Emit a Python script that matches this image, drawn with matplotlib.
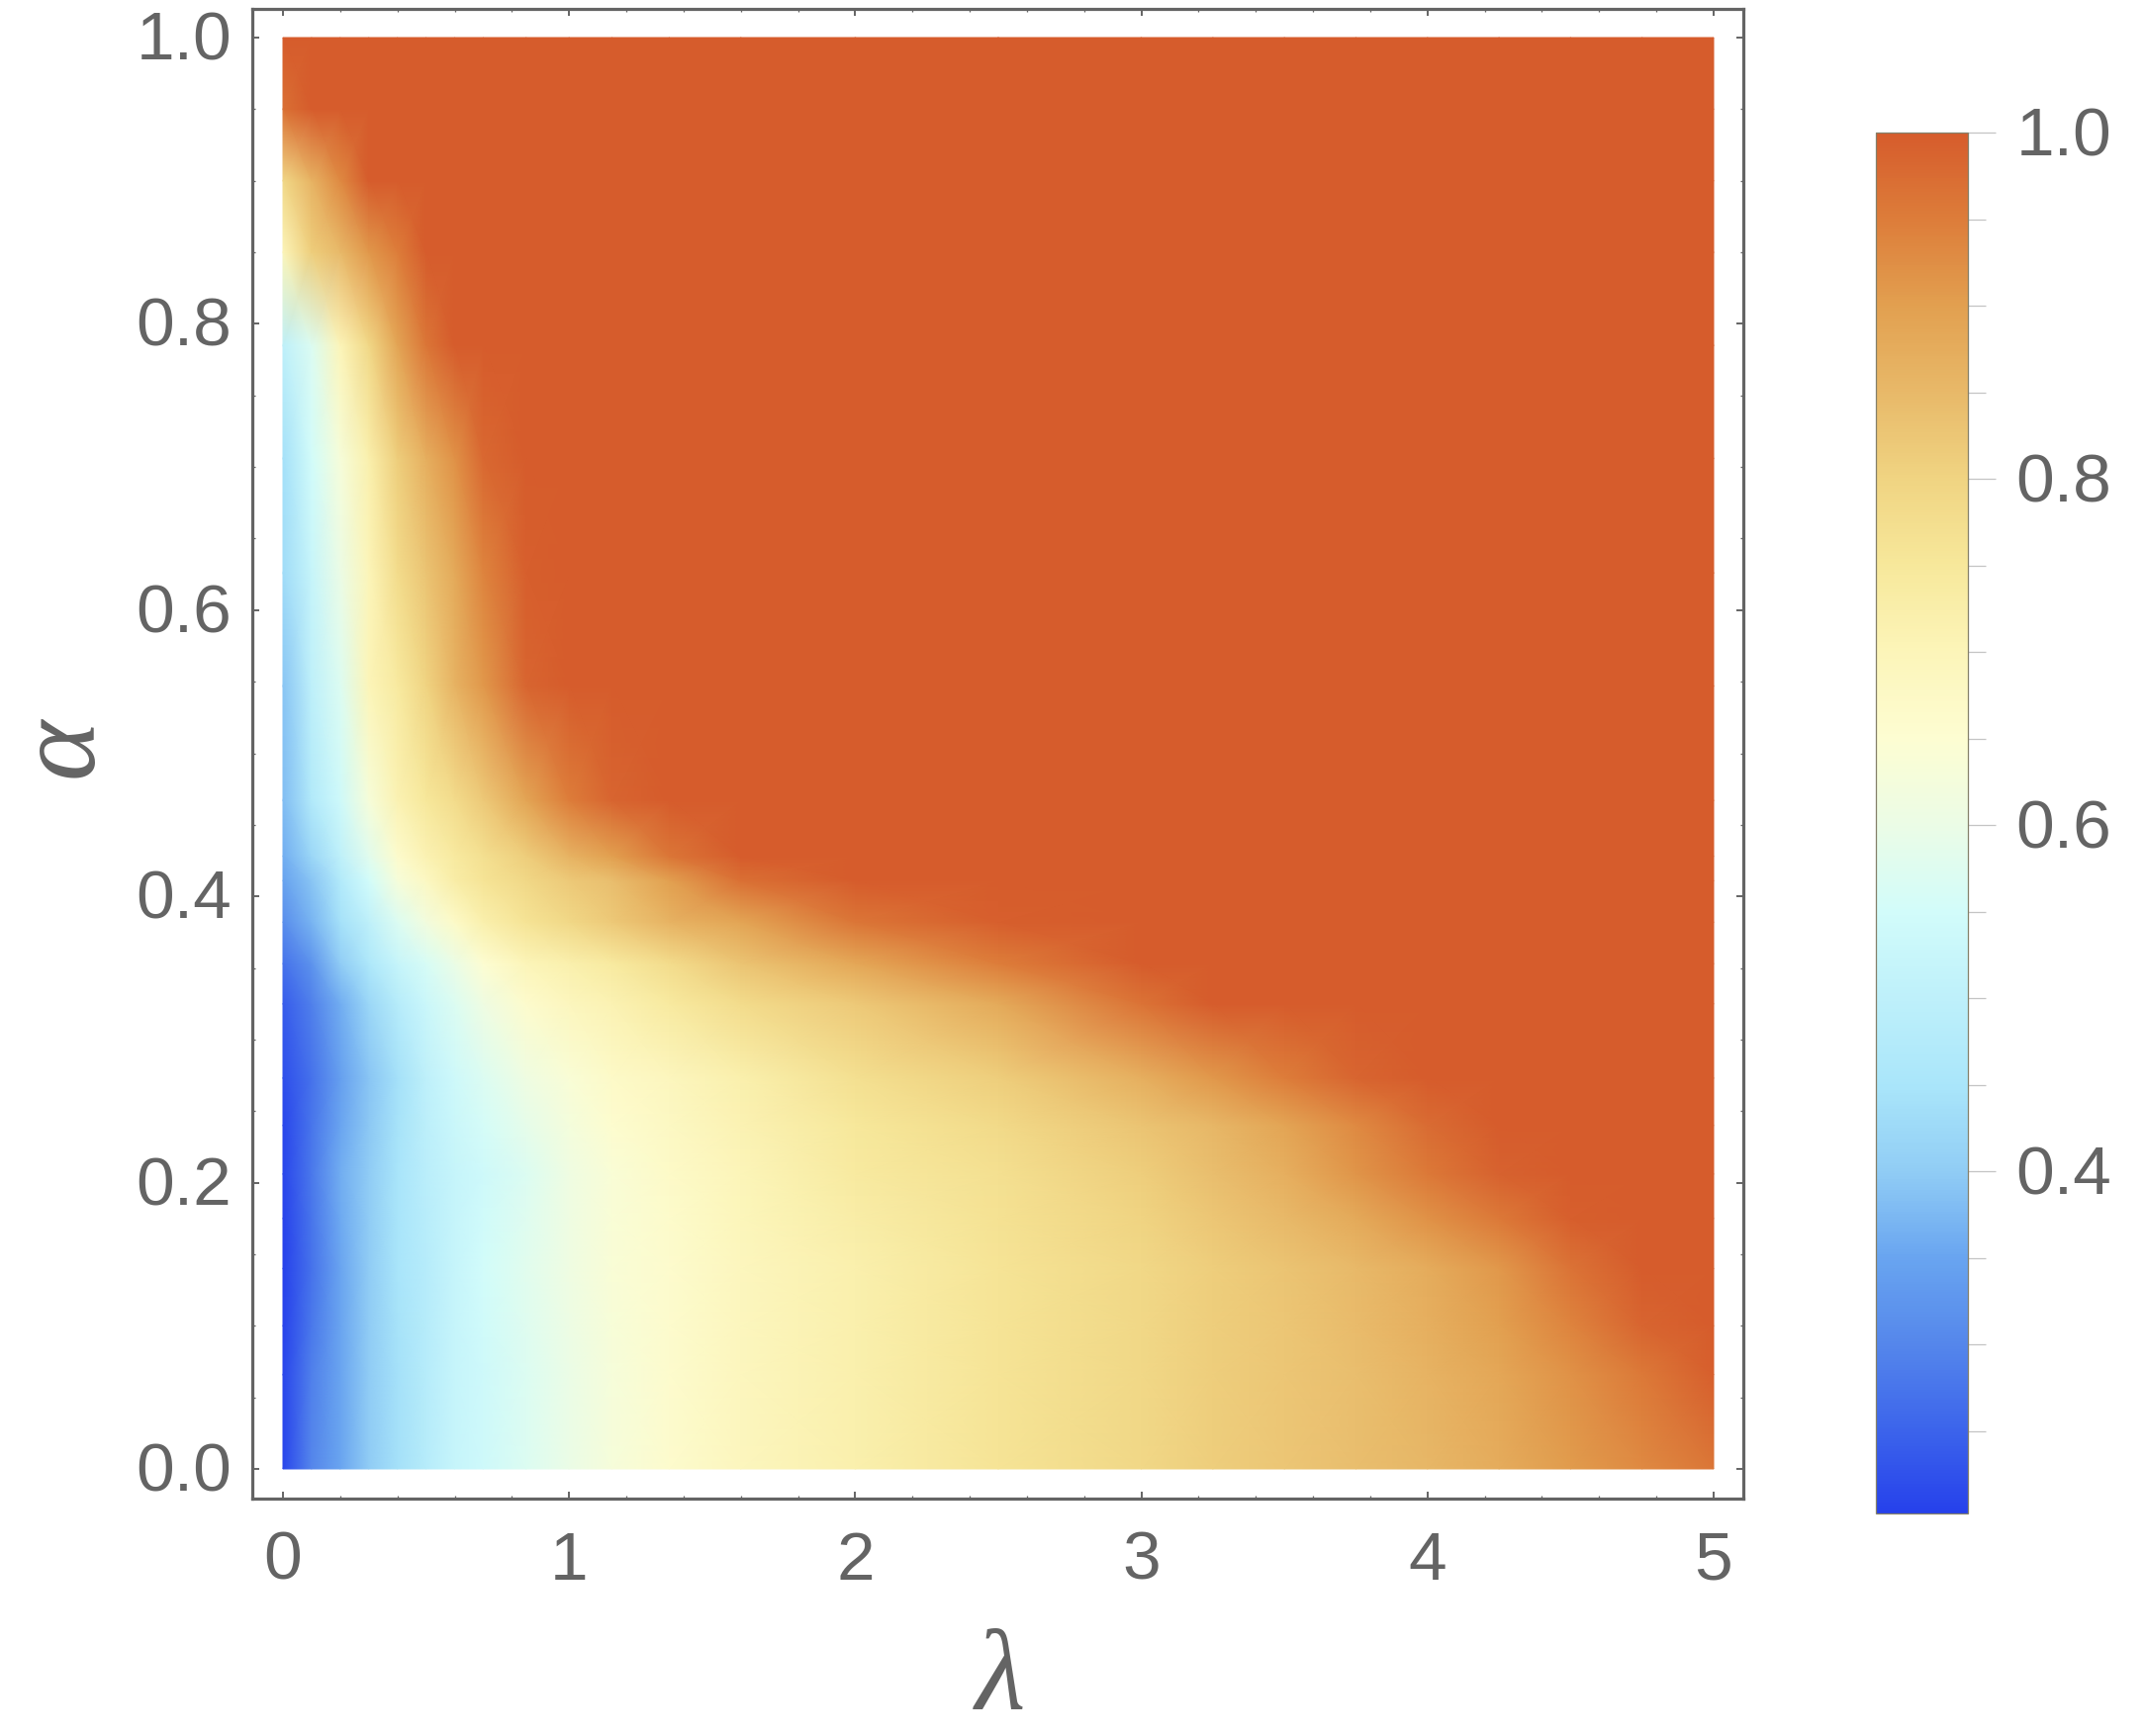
import numpy as np
import matplotlib
matplotlib.use("Agg")
import matplotlib.pyplot as plt
from matplotlib.colors import LinearSegmentedColormap, Normalize
from matplotlib.ticker import MultipleLocator
from matplotlib.transforms import ScaledTranslation

W, H = 2169, 1756
GRAY = "#646464"

lambda_values = [0, .1, .2, .3, .4, .5, .6, .7, .85, 1, 1.15, 1.35, 1.6, 2, 2.5, 3, 3.25, 3.5, 3.75, 4, 4.25, 4.5, 4.75, 5]
alpha_values = [0, .066, .10, .14, .175, .206, .24, .273, .325, .353, .382, .411, .428, .467, .547, .626, .706, .785, .85, .9, .95, 1]

row_000 = [.21, .30, .35, .40, .44, .48, .52, .54, .57, .60, .63, .66, .69, .72, .76, .79, .81, .825, .84, .855, .875, .905, .93, .96]
row_007 = [.21, .29, .35, .40, .44, .48, .52, .54, .57, .60, .63, .66, .69, .72, .76, .79, .81, .825, .84, .86, .885, .92, .955, .995]
row_010 = [.205, .28, .35, .40, .445, .48, .52, .545, .575, .605, .635, .66, .69, .72, .76, .79, .81, .825, .845, .87, .90, .94, .985, 1]
row_014 = [.20, .27, .35, .40, .45, .48, .52, .55, .58, .61, .64, .66, .69, .72, .76, .79, .81, .83, .85, .875, .91, .965, 1, 1]
row_018 = [.205, .275, .355, .40, .45, .485, .52, .545, .575, .61, .64, .665, .695, .73, .765, .80, .825, .85, .88, .92, .955, .995, 1, 1]
row_021 = [.21, .28, .36, .40, .45, .49, .52, .54, .57, .61, .64, .67, .70, .74, .77, .81, .84, .87, .915, .955, .99, 1, 1, 1]
row_024 = [.21, .275, .35, .395, .445, .495, .53, .555, .59, .625, .655, .68, .71, .75, .785, .83, .855, .89, .93, .975, 1, 1, 1, 1]
row_027 = [.22, .27, .34, .39, .44, .50, .54, .57, .61, .64, .67, .69, .72, .77, .81, .87, .91, .95, .985, 1, 1, 1, 1, 1]
row_033 = [.24, .29, .36, .42, .48, .53, .57, .61, .66, .69, .71, .74, .78, .82, .88, .965, 1, 1, 1, 1, 1, 1, 1, 1]
row_035 = [.27, .32, .40, .46, .52, .56, .60, .65, .70, .72, .74, .78, .83, .885, .95, 1, 1, 1, 1, 1, 1, 1, 1, 1]
row_038 = [.31, .37, .44, .50, .57, .62, .67, .72, .76, .79, .82, .86, .89, .96, .995, 1, 1, 1, 1, 1, 1, 1, 1, 1]
row_041 = [.345, .39, .47, .55, .63, .68, .73, .76, .79, .82, .84, .90, .97, 1, 1, 1, 1, 1, 1, 1, 1, 1, 1, 1]
row_043 = [.36, .42, .50, .58, .66, .71, .74, .77, .81, .86, .90, .96, 1, 1, 1, 1, 1, 1, 1, 1, 1, 1, 1, 1]
row_047 = [.38, .47, .54, .63, .71, .75, .78, .82, .89, .95, .985, 1, 1, 1, 1, 1, 1, 1, 1, 1, 1, 1, 1, 1]
row_055 = [.39, .50, .57, .70, .74, .80, .86, .91, .985, 1, 1, 1, 1, 1, 1, 1, 1, 1, 1, 1, 1, 1, 1, 1]
row_063 = [.43, .52, .60, .70, .78, .83, .88, .94, .995, 1, 1, 1, 1, 1, 1, 1, 1, 1, 1, 1, 1, 1, 1, 1]
row_071 = [.44, .55, .63, .72, .81, .87, .92, .98, 1, 1, 1, 1, 1, 1, 1, 1, 1, 1, 1, 1, 1, 1, 1, 1]
row_079 = [.50, .57, .70, .79, .89, .96, 1, 1, 1, 1, 1, 1, 1, 1, 1, 1, 1, 1, 1, 1, 1, 1, 1, 1]
row_085 = [.70, .81, .85, .91, .95, 1, 1, 1, 1, 1, 1, 1, 1, 1, 1, 1, 1, 1, 1, 1, 1, 1, 1, 1]
row_090 = [.79, .86, .93, 1, 1, 1, 1, 1, 1, 1, 1, 1, 1, 1, 1, 1, 1, 1, 1, 1, 1, 1, 1, 1]
row_095 = [.97, 1, 1, 1, 1, 1, 1, 1, 1, 1, 1, 1, 1, 1, 1, 1, 1, 1, 1, 1, 1, 1, 1, 1]
row_100 = [1, 1, 1, 1, 1, 1, 1, 1, 1, 1, 1, 1, 1, 1, 1, 1, 1, 1, 1, 1, 1, 1, 1, 1]

field_rows = [row_000, row_007, row_010, row_014, row_018, row_021, row_024, row_027, row_033, row_035, row_038,
              row_041, row_043, row_047, row_055, row_063, row_071, row_079, row_085, row_090, row_095, row_100]

color_levels = [.2023, .25, .30, .35, .40, .45, .50, .55, .60, .65, .70, .75, .80, .85, .90, .95, 1.0]
color_stops = [(38, 65, 235), (60, 100, 235), (85, 135, 235), (105, 165, 240), (145, 205, 245),
               (170, 230, 250), (190, 240, 250), (210, 252, 250), (235, 252, 230), (253, 253, 210),
               (252, 245, 185), (247, 232, 155), (240, 212, 130), (232, 185, 105), (226, 160, 80),
               (221, 125, 58), (214, 92, 44)]

x_major = [0, 1, 2, 3, 4, 5]
y_major = [0.0, 0.2, 0.4, 0.6, 0.8, 1.0]
bar_major = [0.4, 0.6, 0.8, 1.0]

vmin, vmax = color_levels[0], color_levels[-1]
cmap = LinearSegmentedColormap.from_list(
    "temperature",
    [((v - vmin) / (vmax - vmin), tuple(c / 255 for c in rgb)) for v, rgb in zip(color_levels, color_stops)],
    N=512,
)

plt.rcParams["font.family"] = ["Liberation Sans", "DejaVu Sans"]
fig = plt.figure(figsize=(W / 100, H / 100), dpi=100, facecolor="white")


def box(left, top, right, bottom):
    return [left / W, 1 - bottom / H, (right - left) / W, (bottom - top) / H]


ax = fig.add_axes(box(255, 10, 1762, 1516))
mesh = ax.pcolormesh(lambda_values, alpha_values, np.array(field_rows), shading="gouraud",
                     cmap=cmap, norm=Normalize(vmin, vmax), rasterized=True)
ax.set_xlim(-31 / 289.2, 5 + 30 / 289.2)
ax.set_ylim(-30 / 1447, 1 + 29 / 1447)

for s in ax.spines.values():
    s.set_linewidth(2.3)
    s.set_color(GRAY)
ax.set_xticks(x_major)
ax.set_yticks(y_major)
ax.set_xticklabels([str(v) for v in x_major])
ax.set_yticklabels([f"{v:.1f}" for v in y_major])
ax.xaxis.set_minor_locator(MultipleLocator(0.2))
ax.yaxis.set_minor_locator(MultipleLocator(0.05))
ax.tick_params(which="major", direction="in", length=5, width=1.4, color=GRAY,
               top=True, right=True, labelsize=50, labelcolor=GRAY)
ax.tick_params(which="minor", direction="in", length=2.5, width=0.9, color=GRAY, top=True, right=True)
ax.tick_params(axis="x", which="major", pad=22)
ax.tick_params(axis="y", which="major", pad=15)

fig.text(1011 / W, 1 - 1700 / H, "λ", family="Liberation Serif", style="italic", fontsize=84,
         color=GRAY, ha="center", va="center")
fig.text(65 / W, 1 - 755 / H, "α", family="Liberation Serif", style="italic", fontsize=84,
         color=GRAY, ha="center", va="center", rotation=90)

cax = fig.add_axes(box(1896, 135, 1989, 1531))
cb = fig.colorbar(mesh, cax=cax, ticks=bar_major)
cb.ax.set_yticklabels([f"{v:.1f}" for v in bar_major])
cb.ax.yaxis.set_minor_locator(MultipleLocator(0.05))
cb.outline.set_linewidth(0.9)
cb.outline.set_edgecolor("#85806a")
cb.ax.tick_params(which="major", direction="out", length=20, width=0.9, color="#c4c4c4",
                  labelsize=50, labelcolor=GRAY, pad=15)
cb.ax.tick_params(which="minor", direction="out", length=13, width=0.9, color="#c4c4c4")

lift_y = ScaledTranslation(0, 2.5 / 72, fig.dpi_scale_trans)
for lab in ax.get_yticklabels():
    lab.set_transform(lab.get_transform() + lift_y)
lift_bar = ScaledTranslation(0, 1.5 / 72, fig.dpi_scale_trans)
for lab in cb.ax.get_yticklabels():
    lab.set_transform(lab.get_transform() + lift_bar)

fig.savefig("out.png", dpi=100, facecolor="white")
